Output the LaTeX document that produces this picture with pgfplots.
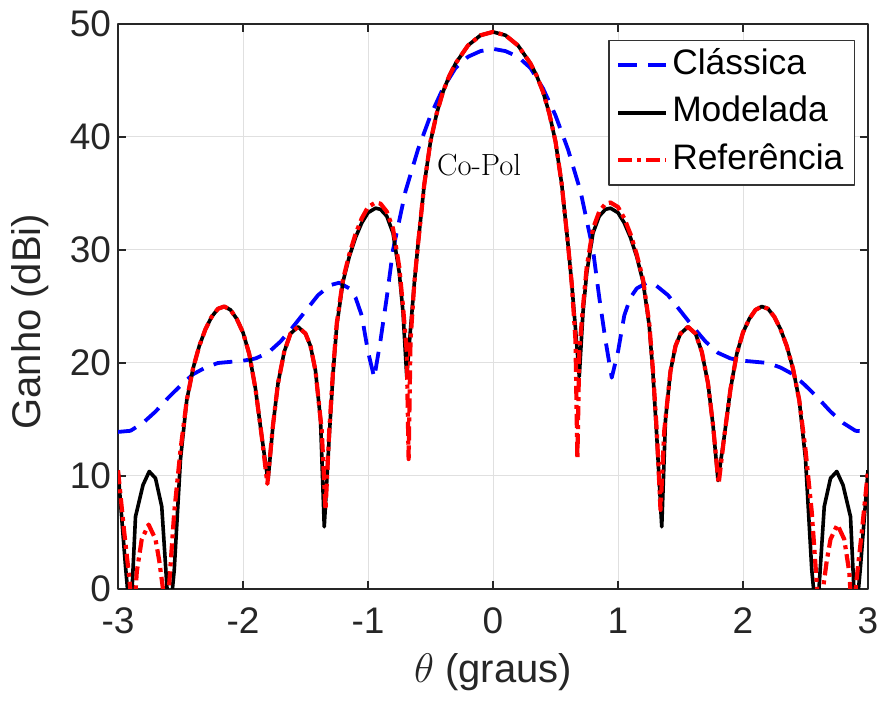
\documentclass[border=0pt]{standalone}
\usepackage{pgfplots}
\pgfplotsset{compat=1.18}
\usepackage{fontspec}
\setsansfont{Liberation Sans}
\begin{document}
\begin{tikzpicture}
\begin{axis}[
 name=ax,
 scale only axis, width=375bp, height=282.5bp,
 xmin=-3, xmax=3, ymin=0, ymax=50,
 xtick={-3,-2,-1,0,1,2,3}, xticklabels={-3,-2,-1,0,1,2,3},
 ytick={0,10,20,30,40,50}, yticklabels={0,10,20,30,40,50},
 tick align=inside, major tick length=4bp, tick pos=both,
 grid=major, major grid style={black!12, line width=0.5bp},
 axis line style={black!85, line width=0.6bp},
 tick style={black!85, line width=0.6bp},
 ticklabel style={font=\sffamily\fontsize{18.5bp}{20bp}\selectfont, text=black!85},
 xticklabel style={yshift=-6bp},
 xlabel={$\theta$ (graus)}, ylabel={Ganho (dBi)},
 label style={font=\sffamily\fontsize{20bp}{22bp}\selectfont, text=black!85},
 xlabel style={at={(axis description cs:0.5,-0.147)}, anchor=center},
 ylabel style={at={(axis description cs:-0.117,0.473)}, anchor=center},
 legend style={at={(axis description cs:0.9827,0.9717)}, anchor=north east, draw=black!80, line width=0.6bp, fill=white, font=\sffamily\fontsize{17.7bp}{20bp}\selectfont, inner xsep=3.5bp, inner ysep=0.5bp, row sep=0pt, nodes={inner ysep=3.375bp, text height=13bp, text depth=4bp}, cells={anchor=west}},
 legend image code/.code={\draw[#1] (0bp,0bp) -- (24bp,0bp);},
 line join=round,
]
\addplot[blue, line width=1.9bp, dash pattern=on 9.5bp off 5.5bp] coordinates {
(-3.0,13.9) (-2.9,14.0) (-2.8,14.7) (-2.7,15.7) (-2.6,16.9) (-2.5,18.0) (-2.4,19.0) (-2.3,19.6) (-2.2,20.0) (-2.1,20.1) (-2.0,20.2) (-1.9,20.4) (-1.8,20.9) (-1.7,21.9) (-1.6,23.2) (-1.5,24.6) (-1.4,26.0) (-1.3,26.9) (-1.23,27.1) (-1.15,26.6) (-1.1,25.8) (-1.05,24.2) (-1.0,21.0) (-0.95,18.7) (-0.9,22.0) (-0.85,25.8) (-0.8,30.0) (-0.75,32.6) (-0.7,35.2) (-0.6,38.9) (-0.5,41.9) (-0.4,44.3) (-0.3,46.1) (-0.2,47.1) (-0.1,47.6) (0,47.8)
(0.1,47.6) (0.2,47.1) (0.3,46.1) (0.4,44.3) (0.5,41.9) (0.6,38.9) (0.7,35.2) (0.75,32.6) (0.8,30.0) (0.85,25.8) (0.9,22.0) (0.95,18.7) (1.0,21.0) (1.05,24.2) (1.1,25.8) (1.15,26.6) (1.23,27.1) (1.3,26.9) (1.4,26.0) (1.5,24.6) (1.6,23.2) (1.7,21.9) (1.8,20.9) (1.9,20.4) (2.0,20.2) (2.1,20.1) (2.2,20.0) (2.3,19.6) (2.4,19.0) (2.5,18.0) (2.6,16.9) (2.7,15.7) (2.8,14.7) (2.9,14.0) (3.0,13.9)
};
\addlegendentry{Clássica}
\addplot[black, line width=1.8bp] coordinates {
(-3.0,10.5) (-2.94,2.0) (-2.9,-3) (-2.86,6.4) (-2.8,9.2) (-2.75,10.4) (-2.7,9.8) (-2.65,7.3) (-2.59,-3) (-2.55,1.7) (-2.5,11.5) (-2.45,16.7) (-2.4,19.5) (-2.35,21.5) (-2.3,23.0) (-2.25,24.1) (-2.2,24.8) (-2.15,25.0) (-2.1,24.7) (-2.05,23.9) (-2.0,22.7) (-1.95,20.8) (-1.9,17.7) (-1.85,13.5) (-1.8,9.6) (-1.76,14.5) (-1.72,18.2) (-1.67,21.0) (-1.62,22.6) (-1.56,23.2) (-1.5,22.6) (-1.46,21.5) (-1.42,19.3) (-1.38,15.0) (-1.35,5.5) (-1.31,13.5) (-1.28,19.0) (-1.25,23.3) (-1.2,27.2) (-1.15,29.4) (-1.1,31.1) (-1.05,32.4) (-1.0,33.3) (-0.94,33.7) (-0.9,33.6) (-0.85,33.0) (-0.8,31.5) (-0.75,28.0) (-0.72,24.5) (-0.69,18.8) (-0.66,23.0) (-0.63,27.0) (-0.6,30.5) (-0.55,35.8) (-0.5,39.6) (-0.45,42.1) (-0.4,44.0) (-0.35,45.4) (-0.3,46.5) (-0.2,48.1) (-0.1,49.0) (0,49.3)
(0.1,49.0) (0.2,48.1) (0.3,46.5) (0.35,45.4) (0.4,44.0) (0.45,42.1) (0.5,39.6) (0.55,35.8) (0.6,30.5) (0.63,27.0) (0.66,23.0) (0.69,18.8) (0.72,24.5) (0.75,28.0) (0.8,31.5) (0.85,33.0) (0.9,33.6) (0.94,33.7) (1.0,33.3) (1.05,32.4) (1.1,31.1) (1.15,29.4) (1.2,27.2) (1.25,23.3) (1.28,19.0) (1.31,13.5) (1.35,5.5) (1.38,15.0) (1.42,19.3) (1.46,21.5) (1.5,22.6) (1.56,23.2) (1.62,22.6) (1.67,21.0) (1.72,18.2) (1.76,14.5) (1.8,9.6) (1.85,13.5) (1.9,17.7) (1.95,20.8) (2.0,22.7) (2.05,23.9) (2.1,24.7) (2.15,25.0) (2.2,24.8) (2.25,24.1) (2.3,23.0) (2.35,21.5) (2.4,19.5) (2.45,16.7) (2.5,11.5) (2.55,1.7) (2.59,-3) (2.65,7.3) (2.7,9.8) (2.75,10.4) (2.8,9.2) (2.86,6.4) (2.9,-3) (2.94,2.0) (3.0,10.5)
};
\addlegendentry{Modelada}
\addplot[red, line width=2.1bp, dash pattern=on 7bp off 2.5bp on 2bp off 2.5bp] coordinates {
(-3.0,10.5) (-2.95,5.0) (-2.91,1.0) (-2.875,-3) (-2.85,1.5) (-2.81,4.4) (-2.755,5.7) (-2.7,4.4) (-2.67,2.5) (-2.64,0) (-2.61,-3) (-2.59,0.5) (-2.55,6.8) (-2.5,12.3) (-2.45,16.7) (-2.4,19.5) (-2.35,21.5) (-2.3,23.0) (-2.25,24.1) (-2.2,24.8) (-2.15,25.0) (-2.1,24.7) (-2.05,23.9) (-2.0,22.7) (-1.95,20.8) (-1.9,17.7) (-1.85,13.5) (-1.805,9.3) (-1.76,14.5) (-1.72,18.2) (-1.67,21.0) (-1.62,22.6) (-1.56,23.2) (-1.5,22.6) (-1.46,21.5) (-1.42,19.3) (-1.37,14.0) (-1.34,7.0) (-1.31,14.0) (-1.28,19.3) (-1.25,23.5) (-1.2,27.4) (-1.15,29.6) (-1.1,31.4) (-1.05,32.8) (-1.0,33.8) (-0.94,34.2) (-0.9,34.1) (-0.85,33.4) (-0.8,31.9) (-0.75,28.5) (-0.72,25.0) (-0.69,21.0) (-0.675,11.5) (-0.66,22.0) (-0.63,27.0) (-0.6,30.5) (-0.55,35.8) (-0.5,39.6) (-0.45,42.1) (-0.4,44.0) (-0.35,45.4) (-0.3,46.5) (-0.2,48.1) (-0.1,49.0) (0,49.3)
(0.1,49.0) (0.2,48.1) (0.3,46.5) (0.35,45.4) (0.4,44.0) (0.45,42.1) (0.5,39.6) (0.55,35.8) (0.6,30.5) (0.63,27.0) (0.66,22.0) (0.675,11.5) (0.69,21.0) (0.72,25.0) (0.75,28.5) (0.8,31.9) (0.85,33.4) (0.9,34.1) (0.94,34.2) (1.0,33.8) (1.05,32.8) (1.1,31.4) (1.15,29.6) (1.2,27.4) (1.25,23.5) (1.28,19.3) (1.31,14.0) (1.34,7.0) (1.37,14.0) (1.42,19.3) (1.46,21.5) (1.5,22.6) (1.56,23.2) (1.62,22.6) (1.67,21.0) (1.72,18.2) (1.76,14.5) (1.805,9.3) (1.85,13.5) (1.9,17.7) (1.95,20.8) (2.0,22.7) (2.05,23.9) (2.1,24.7) (2.15,25.0) (2.2,24.8) (2.25,24.1) (2.3,23.0) (2.35,21.5) (2.4,19.5) (2.45,16.7) (2.5,12.3) (2.55,6.8) (2.59,0.5) (2.61,-3) (2.64,0) (2.67,2.5) (2.7,4.4) (2.755,5.7) (2.81,4.4) (2.85,1.5) (2.875,-3) (2.91,1.0) (2.95,5.0) (3.0,10.5)
};
\addlegendentry{Referência}
\node[anchor=west, inner sep=0pt, font=\fontsize{15.3bp}{17bp}\selectfont] at (axis cs:-0.45,37.5) {Co-Pol};
\end{axis}
\pgfresetboundingbox
\path[use as bounding box] ([shift={(-59bp,-60bp)}]ax.south west) rectangle ([shift={(5.5bp,12bp)}]ax.north east);
\end{tikzpicture}
\end{document}
